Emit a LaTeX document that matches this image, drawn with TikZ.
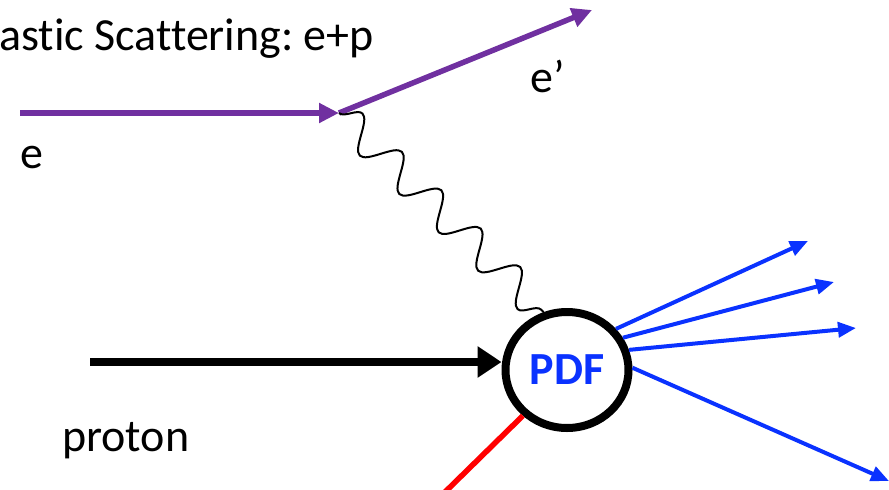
\documentclass[tikz,border=0pt]{standalone}
\usepackage{fontspec}
\setmainfont[Ligatures=NoCommon]{Carlito}
\usetikzlibrary{arrows.meta,shapes.geometric,decorations.pathmorphing}
\definecolor{epurple}{RGB}{112,48,160}
\definecolor{pblue}{RGB}{10,50,255}
\frenchspacing
\begin{document}
\begin{tikzpicture}[x=1pt,y=-1pt,
  lbl/.style={font=\fontsize{46}{52}\selectfont, inner sep=0pt},
  elec/.style={draw=epurple, line width=5.5pt, -{Triangle[length=20pt,width=19pt]}},
  jet/.style={draw=pblue, line width=4pt, -{Triangle[length=18pt,width=15pt]}},
  protonline/.style={draw=black, line width=8.5pt, -{Triangle[length=24pt,width=30pt]}},
  photon/.style={draw=black, line width=2pt, decorate, decoration={snake, segment length=55pt, amplitude=16pt}},
  pdfnode/.style={ellipse, draw=black, line width=8pt, minimum width=123pt, minimum height=116pt, inner sep=0pt, text=pblue, font=\bfseries\fontsize{46}{52}\selectfont},
  remnant/.style={draw=red, line width=5.5pt}]
\path[use as bounding box] (0,0) rectangle (889,490);
\begin{scope}
\clip (0,0) rectangle (889,490);
\node[lbl, anchor=base west] (title) at (-1,50) {astic Scattering: e+p};
\node[lbl, anchor=base west] (elbl) at (20,168) {e};
\node[lbl, anchor=base west] (eplbl) at (530,92) {e’};
\node[lbl, anchor=base west] (plbl) at (62,451) {proton};
\coordinate (ein) at (20,113);
\coordinate (vtx) at (339,113);
\coordinate (eout) at (592,10);
\coordinate (pin) at (90,362);
\coordinate (j1) at (808,241);
\coordinate (j2) at (834,282);
\coordinate (j3) at (856,328);
\coordinate (j4) at (889,481);
\coordinate (rend) at (443,494);
\node[pdfnode] (pdf) at (567,370) {PDF};
\draw[elec] (ein) -- (vtx);
\draw[elec] (vtx) -- (eout);
\draw[photon] (vtx) -- (pdf.112);
\draw[protonline] (pin) -- (pin -| pdf.west);
\draw[jet] (pdf.40) -- (j1);
\draw[jet] (pdf.30) -- (j2);
\draw[jet] (pdf.18) -- (j3);
\draw[jet] (pdf.2) -- (j4);
\draw[remnant] (pdf.226) -- (rend);
\end{scope}
\end{tikzpicture}
\end{document}
